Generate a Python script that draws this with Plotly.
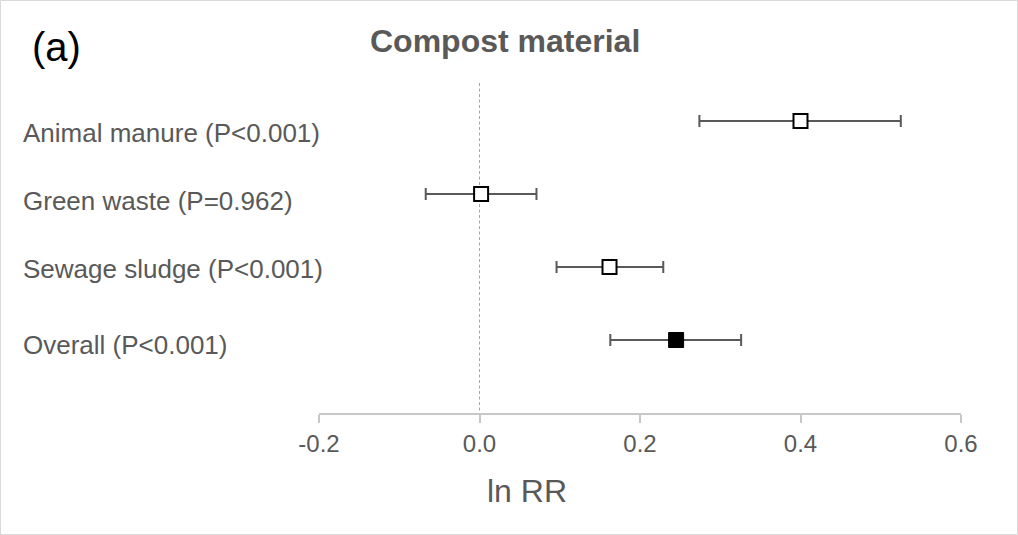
import plotly.graph_objects as go

categories = ["Animal manure (P<0.001)", "Green waste (P=0.962)",
              "Sewage sludge (P<0.001)", "Overall (P<0.001)"]
means = [0.400, 0.002, 0.162, 0.245]
ci_low = [0.274, -0.067, 0.096, 0.163]
ci_high = [0.525, 0.071, 0.229, 0.326]
tick_vals = [-0.2, 0.0, 0.2, 0.4, 0.6]
tick_text = ["-0.2", "0.0", "0.2", "0.4", "0.6"]

FONT = "Arial, Liberation Sans, sans-serif"
GRAY = "#595959"
W, H = 1018, 535
ML, MR, MT, MB = 319, 57, 48, 122
PW, PH = W - ML - MR, H - MT - MB


def px_x(px):
    return (px - ML) / PW


def px_y(py):
    return (H - MB - py) / PH


ypos = list(range(1, len(categories) + 1))
err_plus = [h - m for h, m in zip(ci_high, means)]
err_minus = [m - l for m, l in zip(means, ci_low)]

fig = go.Figure()
fig.add_trace(go.Scatter(
    x=means[:3], y=ypos[:3], mode="markers",
    marker=dict(symbol="square", size=14, color="white",
                line=dict(color="black", width=2)),
    error_x=dict(type="data", array=err_plus[:3], arrayminus=err_minus[:3],
                 color=GRAY, thickness=2, width=6),
    showlegend=False, cliponaxis=False))
fig.add_trace(go.Scatter(
    x=means[3:], y=ypos[3:], mode="markers",
    marker=dict(symbol="square", size=15, color="black",
                line=dict(color="black", width=1)),
    error_x=dict(type="data", array=err_plus[3:], arrayminus=err_minus[3:],
                 color=GRAY, thickness=2, width=6),
    showlegend=False, cliponaxis=False))

label_shift = [-12, -7, -2, -5]
annotations = []
for yv, lab, sh in zip(ypos, categories, label_shift):
    annotations.append(dict(x=px_x(21), xref="paper", y=yv, yref="y", text=lab,
                            xanchor="left", yanchor="middle", yshift=sh,
                            showarrow=False, font=dict(family=FONT, size=26, color=GRAY)))
annotations.append(dict(x=px_x(505), xref="paper", y=px_y(41), yref="paper",
                        text="<b>Compost material</b>", xanchor="center", yanchor="middle",
                        showarrow=False, font=dict(family=FONT, size=32, color=GRAY)))
annotations.append(dict(x=px_x(30), xref="paper", y=px_y(47), yref="paper",
                        text="(a)", xanchor="left", yanchor="middle",
                        showarrow=False, font=dict(family=FONT, size=40, color="black")))
annotations.append(dict(x=px_x(527), xref="paper", y=px_y(491), yref="paper",
                        text="ln RR", xanchor="center", yanchor="middle",
                        showarrow=False, font=dict(family=FONT, size=32, color=GRAY)))

fig.update_layout(
    width=W, height=H,
    margin=dict(l=ML, r=MR, t=MT, b=MB),
    paper_bgcolor="white", plot_bgcolor="white",
    xaxis=dict(range=[-0.2, 0.6], tickvals=tick_vals, ticktext=tick_text,
               showgrid=False, zeroline=False, showline=True, linecolor="#c8c8c8",
               linewidth=1.5, ticks="outside", ticklen=8, tickcolor="#c8c8c8",
               tickwidth=1.5, tickfont=dict(family=FONT, size=24, color=GRAY)),
    yaxis=dict(range=[5, 0], showgrid=False, zeroline=False, showline=False,
               showticklabels=False, ticks=""),
    shapes=[
        dict(type="line", xref="x", yref="y", x0=0, x1=0, y0=0.48, y1=5,
             line=dict(color="#a6a6a6", width=1, dash="3px,2.5px"), layer="below"),
        dict(type="rect", xref="paper", yref="paper",
             x0=px_x(0.5), x1=px_x(W - 0.5), y0=px_y(H - 0.5), y1=px_y(0.5),
             line=dict(color="#d9d9d9", width=1), fillcolor="rgba(0,0,0,0)"),
    ],
    annotations=annotations,
)

fig.write_html("out.html")
